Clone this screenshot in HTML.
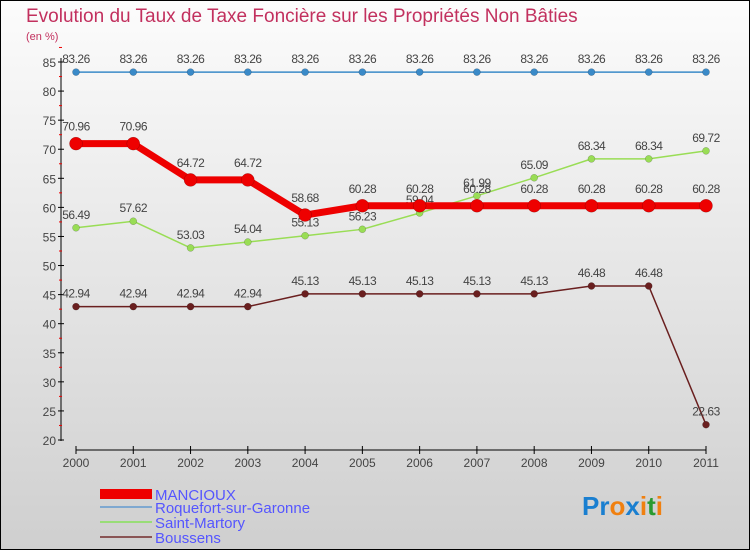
<!DOCTYPE html>
<html><head><meta charset="utf-8"><style>
body{margin:0;}
#wrap{width:750px;height:550px;position:relative;overflow:hidden;}
svg{display:block;font-family:"Liberation Sans",sans-serif;}
</style></head><body>
<div id="wrap">
<svg id="chart" width="750" height="550">
<defs><linearGradient id="bg" x1="0" y1="0" x2="0" y2="1"><stop offset="0" stop-color="#fcfcfc"/><stop offset="1" stop-color="#cfcfcf"/></linearGradient></defs>
<rect x="0.5" y="0.5" width="749" height="549" fill="url(#bg)" stroke="#000"/>
<text x="26" y="22" font-size="19" fill="#c2305e">Evolution du Taux de Taxe Foncière sur les Propriétés Non Bâties</text>
<text x="26" y="40" font-size="11" fill="#c2305e">(en %)</text>
<g id="axes"></g><g id="series"></g>
<g>
<rect x="100" y="489" width="52" height="10" fill="#e00"/>
<text x="155" y="500" font-size="15" fill="#5555ff">MANCIOUX</text>
<rect x="100" y="506" width="52" height="2" fill="#7fa8d0"/>
<text x="155" y="513" font-size="15" fill="#5555ff">Roquefort-sur-Garonne</text>
<rect x="100" y="521" width="52" height="2" fill="#99dd77"/>
<text x="155" y="528" font-size="15" fill="#5555ff">Saint-Martory</text>
<rect x="100" y="536" width="52" height="2" fill="#8a5555"/>
<text x="155" y="543" font-size="15" fill="#5555ff">Boussens</text>
</g>
<text x="582" y="515" font-size="26" font-weight="bold"><tspan fill="#1a7fd0">Pr</tspan><tspan fill="#f08010">o</tspan><tspan fill="#1a7fd0">x</tspan><tspan fill="#f08010">i</tspan><tspan fill="#2a9a30">t</tspan><tspan fill="#f08010">i</tspan></text>
</svg></div>
<script>
const years=[2000,2001,2002,2003,2004,2005,2006,2007,2008,2009,2010,2011];
const mancioux=[70.96,70.96,64.72,64.72,58.68,60.28,60.28,60.28,60.28,60.28,60.28,60.28];
const roquefort=[83.26,83.26,83.26,83.26,83.26,83.26,83.26,83.26,83.26,83.26,83.26,83.26];
const saintMartory=[56.49,57.62,53.03,54.04,55.13,56.23,59.04,61.99,65.09,68.34,68.34,69.72];
const boussens=[42.94,42.94,42.94,42.94,45.13,45.13,45.13,45.13,45.13,46.48,46.48,22.63];
const yTicks=[20,25,30,35,40,45,50,55,60,65,70,75,80,85];
const NS="http://www.w3.org/2000/svg";
const xs=i=>76+i*(630/11);
const ys=v=>440-(v-20)*(378/65);
function mk(tag,attrs,parent){const e=document.createElementNS(NS,tag);for(const k in attrs)e.setAttribute(k,attrs[k]);parent.appendChild(e);return e;}
const ax=document.getElementById('axes');
let l=mk('line',{x1:61,y1:58,x2:61,y2:441,stroke:'#000'},ax);


yTicks.forEach(t=>{
 const y=ys(t);
 mk('line',{x1:58,x2:64,y1:y,y2:y,stroke:'#000'},ax);
 mk('line',{x1:59,x2:62,y1:ys(t+2.5),y2:ys(t+2.5),stroke:'#e00'},ax);
 const tx=mk('text',{x:56,y:y+5,'font-size':12,'text-anchor':'end',fill:'#444'},ax);
 tx.textContent=t;
 
 
});
l=mk('line',{x1:76,y1:450,x2:706,y2:450,stroke:'#000'},ax);


years.forEach((yr,i)=>{
 const x=xs(i);
 mk('line',{x1:x,x2:x,y1:446,y2:454,stroke:'#000'},ax);
 const tx=mk('text',{x:x,y:467,'font-size':12,'text-anchor':'middle',fill:'#444'},ax);
 tx.textContent=yr;
 
 
});
const sg=document.getElementById('series');
function draw(vals,name,color,w,r,lblOff){
 const g=mk('g',{},sg);
 
 
 const p=mk('polyline',{points:vals.map((v,i)=>xs(i)+','+ys(v)).join(' '),fill:'none',stroke:color,'stroke-width':w,'stroke-linejoin':'round'},g);
 
 
 vals.forEach((v,i)=>{
  const c=mk('circle',{cx:xs(i),cy:ys(v),r:r,fill:color,stroke:'rgba(0,0,0,0.3)','stroke-width':0.5},g);
  
  
  const t=mk('text',{x:xs(i),y:ys(v)-lblOff,'font-size':12,'text-anchor':'middle',fill:'#444','letter-spacing':'-0.5'},g);
  t.textContent=v.toFixed(2);
  
  
 });
}
draw(boussens,'boussens','#6a1f1f',1.5,3.5,9);
draw(saintMartory,'saint-martory','#99dd55',1.5,3.5,9);
draw(roquefort,'roquefort','#3a8ac8',1.5,3.5,9);
draw(mancioux,'mancioux','#ee0000',7,6.5,13);
</script>
</body></html>
